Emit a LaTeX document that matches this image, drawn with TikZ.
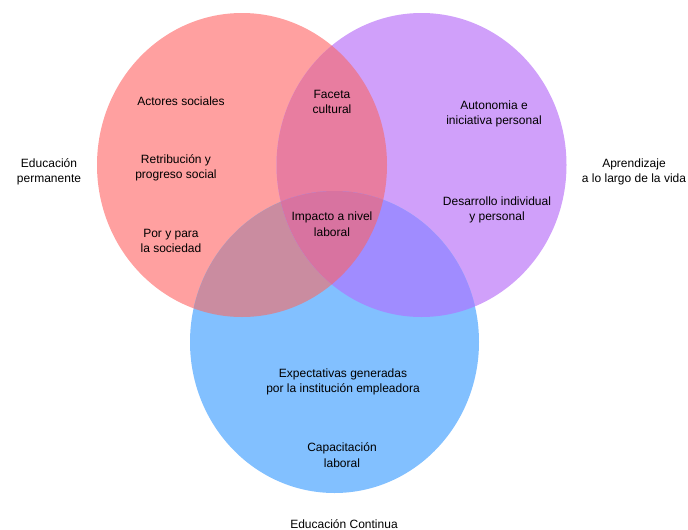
\documentclass[tikz,border=0pt]{standalone}
\usepackage{fontspec}
\setmainfont{Liberation Sans}
\usepackage{tikz}

\definecolor{redset}{RGB}{255,160,160}
\definecolor{purpleset}{RGB}{208,160,250}
\definecolor{blueset}{RGB}{130,192,255}
\definecolor{redpurple}{RGB}{232,125,160}
\definecolor{redblue}{RGB}{202,140,160}
\definecolor{purpleblue}{RGB}{160,140,255}
\definecolor{allthree}{RGB}{216,115,160}

\newcommand{\redset}{(242,165) ellipse [x radius=145, y radius=152]}
\newcommand{\purpleset}{(421.5,165) ellipse [x radius=145, y radius=152]}
\newcommand{\blueset}{(334.5,342) ellipse [x radius=144.5, y radius=151]}

\begin{document}
\begin{tikzpicture}[x=1pt, y=-1pt]
  \tikzset{every node/.style = {align = center,
                                inner sep = 0,
                                font = \fontsize{12}{15.5}\selectfont}}
\useasboundingbox (0,0) rectangle (688,530);

% the three sets
\fill[redset] \redset;
\fill[purpleset] \purpleset;
\fill[blueset] \blueset;
% overlaps
\begin{scope}
  \clip \redset;
  \fill[redpurple] \purpleset;
  \fill[redblue] \blueset;
\end{scope}
\begin{scope}
  \clip \purpleset;
  \fill[purpleblue] \blueset;
\end{scope}
\begin{scope}
  \clip \redset;
  \clip \purpleset;
  \fill[allthree] \blueset;
\end{scope}

% labels in the sets
\node (actores) at (181,101) {Actores sociales};
\node (retrib) at (176,168) {Retribución y\\progreso social};
\node (porpara) at (171,241) {Por y para\\la sociedad};
\node (faceta) at (332,102) {Faceta\\cultural};
\node (impacto) at (332,224) {Impacto a nivel\\laboral};
\node (autonomia) at (494,114) {Autonomia e\\iniciativa personal};
\node (desarrollo) at (497,210) {Desarrollo individual\\y personal};
\node (expect) at (343,382) {Expectativas generadas\\por la institución empleadora};
\node (capacit) at (342,455) {Capacitación\\laboral};

% set names
\node (permanente) at (49,172) {Educación\\permanente};
\node (vida) at (634,172) {Aprendizaje\\a lo largo de la vida};
\node (continua) at (344,524) {Educación Continua};

\end{tikzpicture}
\end{document}
